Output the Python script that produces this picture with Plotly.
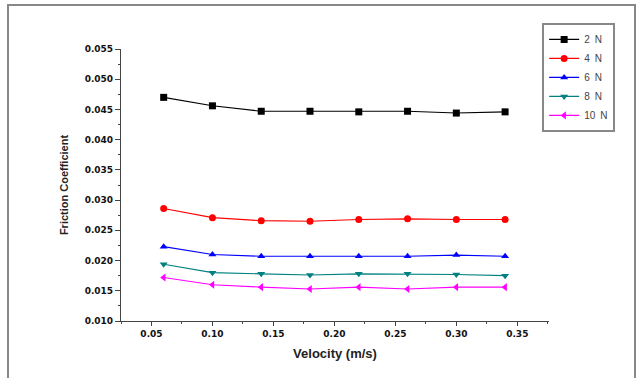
import plotly.graph_objects as go

velocity = [0.06, 0.10, 0.14, 0.18, 0.22, 0.26, 0.30, 0.34]
series_names = ["2\u2002N", "4\u2002N", "6\u2002N", "8\u2002N", "10\u2002N"]
f_2N = [0.0470, 0.0456, 0.0447, 0.0447, 0.0446, 0.0447, 0.0444, 0.0446]
f_4N = [0.0286, 0.0271, 0.0266, 0.0265, 0.0268, 0.0269, 0.0268, 0.0268]
f_6N = [0.0223, 0.0210, 0.0207, 0.0207, 0.0207, 0.0207, 0.0209, 0.0207]
f_8N = [0.0194, 0.0180, 0.0178, 0.0176, 0.0178, 0.0178, 0.0177, 0.0175]
f_10N = [0.0172, 0.0160, 0.0156, 0.0153, 0.0156, 0.0153, 0.0156, 0.0156]
y_ticks = [0.010, 0.015, 0.020, 0.025, 0.030, 0.035, 0.040, 0.045, 0.050, 0.055]
x_ticks = [0.05, 0.10, 0.15, 0.20, 0.25, 0.30, 0.35]

values = [f_2N, f_4N, f_6N, f_8N, f_10N]
colors = ["#000000", "#ff0000", "#0000ff", "#008080", "#ff00ff"]
symbols = ["square", "circle", "triangle-up", "triangle-down", "triangle-left"]

fig = go.Figure()
for name, vals, c, s in zip(series_names, values, colors, symbols):
    fig.add_trace(go.Scatter(
        x=velocity, y=vals, name=name, mode="lines+markers",
        line=dict(color=c, width=1.1),
        marker=dict(symbol=s, color=c, size=7),
    ))

tickfont = dict(family="DejaVu Sans", size=9, color="#111", weight="bold")
fig.update_layout(
    width=640, height=378,
    margin=dict(l=121, r=91, t=49, b=57),
    paper_bgcolor="white", plot_bgcolor="white",
    showlegend=True,
    legend=dict(
        x=0.984, y=1.096, xanchor="left", yanchor="top",
        bordercolor="#888", borderwidth=2, bgcolor="white",
        font=dict(family="Liberation Sans", size=10, color="#444"),
        itemwidth=30, tracegroupgap=0,
    ),
    xaxis=dict(
        range=[0.025, 0.376], tickvals=x_ticks,
        ticktext=[f"{v:.2f}" for v in x_ticks],
        showgrid=False, zeroline=False, showline=True, linecolor="#444", linewidth=1.2,
        ticks="outside", ticklen=4, tickcolor="#444", tickfont=tickfont,
        minor=dict(ticks="outside", ticklen=2, tickcolor="#444", dtick=0.025, tick0=0.025),
        title=dict(text="Velocity (m/s)", standoff=10,
                   font=dict(family="Liberation Sans", size=13, color="#222", weight="bold")),
    ),
    yaxis=dict(
        range=[0.010, 0.055], tickvals=y_ticks,
        ticktext=[f"{v:.3f}" for v in y_ticks],
        showgrid=False, zeroline=False, showline=True, linecolor="#444", linewidth=1.2,
        ticks="outside", ticklen=5, tickcolor="#444", tickfont=tickfont,
        minor=dict(ticks="outside", ticklen=2, tickcolor="#444", dtick=0.0025, tick0=0.0025),
        title=dict(text="Friction Coefficient", standoff=13,
                   font=dict(family="Liberation Sans", size=11, color="#222", weight="bold")),
    ),
    shapes=[dict(type="rect", xref="paper", yref="paper",
                 x0=(8 - 121) / 428, x1=(635 - 121) / 428,
                 y0=(321 - 390) / 272, y1=(321 - 5) / 272,
                 line=dict(color="#888", width=2), layer="below")],
)

fig.write_html("out.html")
